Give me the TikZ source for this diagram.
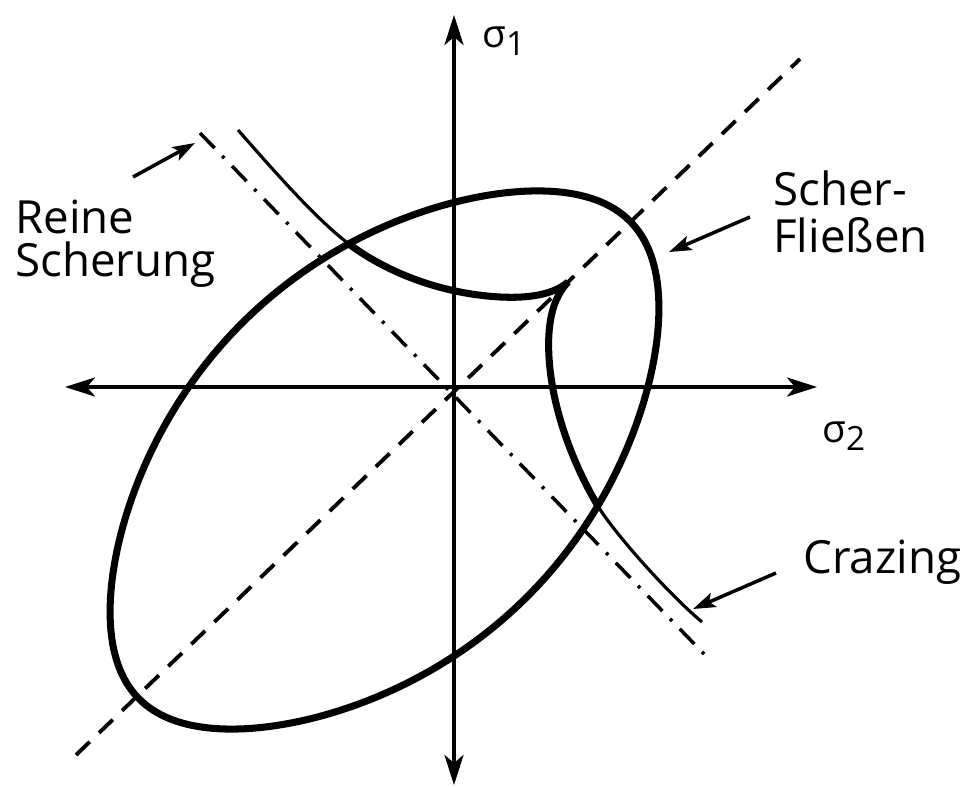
\documentclass[tikz,border=0pt]{standalone}
\usepackage{fontspec}
\setmainfont{Open Sans}
\usetikzlibrary{arrows.meta}

\begin{document}
\begin{tikzpicture}[
  font=\fontsize{26}{25}\selectfont, >={Stealth[length=6mm,width=3.8mm,inset=1.6mm]},
  axis/.style={<->,line width=2pt},
  bound/.style={line width=4pt,line join=round},
  crz/.style={line width=1.8pt},
  hyd/.style={line width=2.2pt,dash pattern=on 3.8mm off 2.6mm},
  shr/.style={line width=2pt,dash pattern=on 4.2mm off 2.2mm on 0.6mm off 2.2mm},
  lead/.style={line width=2pt,-{Stealth[length=4.5mm,width=3mm,inset=1mm]}},
  lbl/.style={inner sep=0pt,align=left,anchor=north west},
  sig/.style={inner sep=0pt,anchor=base west,font=\fontsize{22}{22}\selectfont},
]
\useasboundingbox (-9.08,-8.0) rectangle (10.38,7.74);

% axis ends and the two diagonals through the origin
\coordinate (o)    at (0,0);
\coordinate (s1up) at (0,7.44);
\coordinate (s1dn) at (0,-7.96);
\coordinate (s2lf) at (-7.78,0);
\coordinate (s2rt) at (7.26,0);
\coordinate (hydA) at (-7.56,-7.36);
\coordinate (hydB) at (6.92,6.56);
\coordinate (shrA) at (-5.08,5.08);
\coordinate (shrB) at (5.02,-5.36);

\draw[hyd] (hydA) -- (hydB);
\draw[shr] (shrA) -- (shrB);
\draw[axis] (s1dn) -- (s1up);
\draw[axis] (s2lf) -- (s2rt);

\node[sig] (sig1) at (0.56,6.78) {σ\raisebox{-4.5pt}{\fontsize{19}{19}\selectfont 1}};
\node[sig] (sig2) at (7.36,-1.12) {σ\raisebox{-4.5pt}{\fontsize{19}{19}\selectfont 2}};

% shear yield contour: ellipse on the hydrostatic diagonal, a little
% pointed at both ends; the crazing curve meets it at cz1 and cz2
\begin{scope}[shift={(-1.39,-1.46)},rotate=44]
  \draw[bound] plot[domain=0:360,samples=150,smooth]
    ({6.85*cos(\x)},{3.95*sin(\x)*(1-0.15*cos(\x)*cos(\x))}) -- cycle;
  \coordinate (cz1) at ({6.85*cos(68.7)},{3.95*sin(68.7)*(1-0.15*cos(68.7)*cos(68.7))});
  \coordinate (cz2) at ({6.85*cos(69.2)},{-3.95*sin(69.2)*(1-0.15*cos(69.2)*cos(69.2))});
\end{scope}

% crazing curve, thick where it bounds the envelope
\coordinate (czA)  at (-4.32,5.14);
\coordinate (czB)  at (4.96,-4.7);
\coordinate (czU)  at (0.92,1.8);
\coordinate (czD)  at (1.9,0.6);
\coordinate (cusp) at (2.28,2.1);
\draw[crz] (czA) .. controls (-3.6,4.32) and (-2.75,3.35) .. (cz1);
\draw[crz] (cz2) .. controls (3.2,-2.92) and (4.3,-4.15) .. (czB);
\draw[bound,line join=miter,miter limit=3]
  (cz1) .. controls (-1.3,2.26) and (-0.2,1.86) .. (czU)
        .. controls (1.5,1.77) and (2.0,1.85) .. (cusp)
        .. controls (1.98,1.78) and (1.86,1.3) .. (czD)
        .. controls (1.95,-0.31) and (2.3,-1.4) .. (cz2);

\node[lbl,font=\fontsize{26}{24.5}\selectfont] (reine) at (-8.78,3.74) {Reine\\Scherung};
\node[lbl,font=\fontsize{26}{27}\selectfont] (scher) at (6.38,4.34) {Scher-\\Fließen};
\node[lbl] (craz) at (6.98,-3.06) {Crazing};

\coordinate (rsTail) at (-6.42,4.2);
\coordinate (rsTip)  at (-5.18,4.88);
\coordinate (sfTail) at (5.92,3.4);
\coordinate (sfTip)  at (4.3,2.7);
\coordinate (czTail) at (6.44,-3.72);
\coordinate (czTip)  at (4.78,-4.44);
\draw[lead] (rsTail) -- (rsTip);
\draw[lead] (sfTail) -- (sfTip);
\draw[lead] (czTail) -- (czTip);
\end{tikzpicture}
\end{document}
